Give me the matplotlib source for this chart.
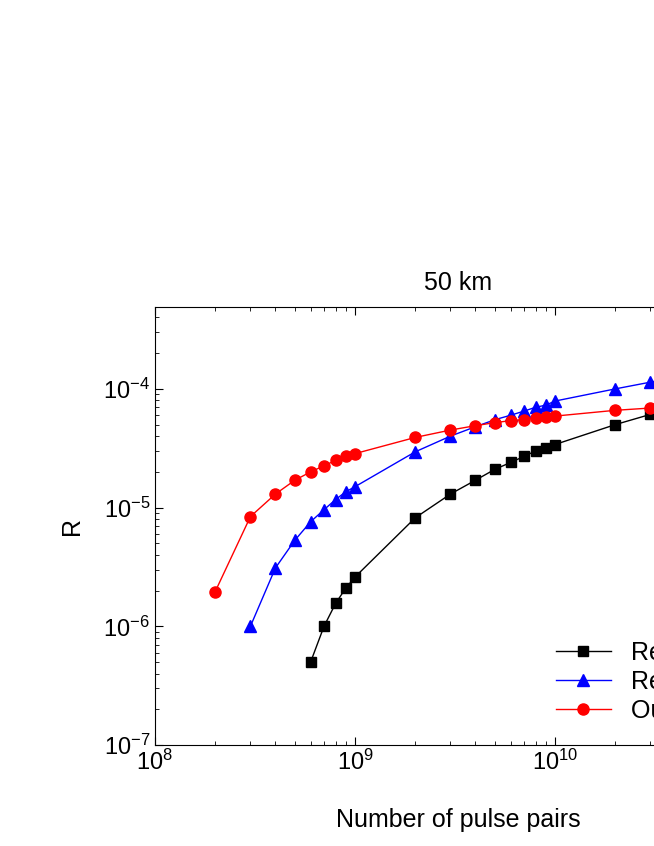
import matplotlib

matplotlib.use("Agg")
import matplotlib.pyplot as plt

plt.rcParams["font.family"] = "Liberation Sans"
plt.rcParams["axes.unicode_minus"] = False

# pulse pairs and R for each series
x_black = [6e8, 7e8, 8e8, 9e8, 1e9, 2e9, 3e9, 4e9, 5e9, 6e9, 7e9, 8e9, 9e9, 1e10, 2e10, 3e10, 4e10]
y_black = [5e-7, 1.0e-6, 1.56e-6, 2.1e-6, 2.6e-6, 8.2e-6, 1.3e-5, 1.7e-5, 2.1e-5, 2.4e-5,
           2.7e-5, 3.0e-5, 3.2e-5, 3.4e-5, 5.0e-5, 6.1e-5, 7.2e-5]

x_blue = [3e8, 4e8, 5e8, 6e8, 7e8, 8e8, 9e8, 1e9, 2e9, 3e9, 4e9, 5e9, 6e9, 7e9, 8e9, 9e9, 1e10, 2e10, 3e10, 4e10]
y_blue = [1.0e-6, 3.1e-6, 5.3e-6, 7.6e-6, 9.6e-6, 1.17e-5, 1.36e-5, 1.5e-5, 2.95e-5, 4.0e-5,
          4.8e-5, 5.5e-5, 6.0e-5, 6.5e-5, 7.0e-5, 7.3e-5, 7.9e-5, 1.0e-4, 1.14e-4, 1.25e-4]

x_red = [2e8, 3e8, 4e8, 5e8, 6e8, 7e8, 8e8, 9e8, 1e9, 2e9, 3e9, 4e9, 5e9, 6e9, 7e9, 8e9, 9e9, 1e10, 2e10, 3e10, 4e10]
y_red = [1.96e-6, 8.4e-6, 1.3e-5, 1.7e-5, 2.0e-5, 2.25e-5, 2.5e-5, 2.7e-5, 2.85e-5, 3.9e-5,
         4.5e-5, 4.9e-5, 5.2e-5, 5.4e-5, 5.5e-5, 5.7e-5, 5.8e-5, 5.9e-5, 6.6e-5, 6.9e-5, 7.0e-5]

labels = ["Ref. [1]", "Ref. [2]", "Our work"]

W, H = 654, 846
fig = plt.figure(figsize=(W / 100, H / 100), dpi=100)
# axes extends past the right edge of the canvas, as in the cropped reference
ax = fig.add_axes([155 / W, 1 - 745 / H, (761 - 155) / W, (745 - 307) / H])

ax.plot(x_black, y_black, "-s", color="black", lw=1, ms=7, label=labels[0])
ax.plot(x_blue, y_blue, "-^", color="blue", lw=1, ms=8, label=labels[1])
ax.plot(x_red, y_red, "-o", color="red", lw=1, ms=8, label=labels[2])

ax.set_xscale("log")
ax.set_yscale("log")
ax.set_xlim(1e8, 10 ** 11.03)
ax.set_ylim(1e-7, 10 ** -3.31)
ax.tick_params(which="both", direction="in", top=True, right=True, labelsize=17)
ax.tick_params(which="major", length=6)
ax.tick_params(which="minor", length=3)

ax.set_xlabel("Number of pulse pairs", fontsize=18, labelpad=24)
ax.set_ylabel("R", fontsize=18, labelpad=14)
ax.set_title("50 km", fontsize=18, pad=12)
ax.legend(loc="lower right", frameon=False, fontsize=18, handlelength=2.2,
          labelspacing=0.2, bbox_to_anchor=(0.99, 0.0))

fig.savefig("out.png", dpi=100)
